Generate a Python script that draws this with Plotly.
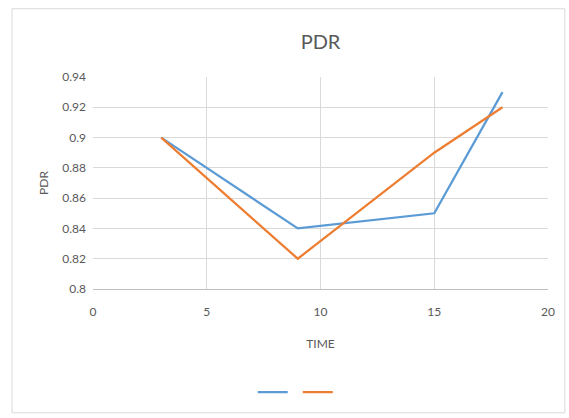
import plotly.graph_objects as go

# PDR over time for two series
time = [3, 9, 15, 18]
pdr_a = [0.90, 0.84, 0.85, 0.93]
pdr_b = [0.90, 0.82, 0.89, 0.92]

x_ticks = [0, 5, 10, 15, 20]
y_ticks = [0.8, 0.82, 0.84, 0.86, 0.88, 0.9, 0.92, 0.94]
y_labels = ["0.8", "0.82", "0.84", "0.86", "0.88", "0.9", "0.92", "0.94"]

font_family = "Lato, 'Open Sans', sans-serif"
grey = "#595959"

fig = go.Figure()
fig.add_trace(go.Scatter(x=time, y=pdr_a, mode="lines", name="",
                         line=dict(color="#5B9BD5", width=2.25)))
fig.add_trace(go.Scatter(x=time, y=pdr_b, mode="lines", name="",
                         line=dict(color="#ED7D31", width=2.25)))

fig.update_layout(
    width=569, height=418,
    margin=dict(l=93, r=21, t=77, b=128),
    paper_bgcolor="white", plot_bgcolor="white",
    font=dict(family=font_family, color=grey, size=12),
    title=dict(text="PDR", x=0.5, xref="paper", xanchor="center",
               y=0.9, yref="container", yanchor="middle",
               font=dict(size=20, color=grey, family=font_family)),
    showlegend=True,
    legend=dict(orientation="h", x=0.45, xanchor="center", y=-0.48,
                yanchor="middle", font=dict(size=11), itemwidth=30,
                tracegroupgap=0),
    shapes=[dict(type="rect", xref="paper", yref="paper",
                 x0=-0.178, x1=1.037, y0=-0.584, y1=1.322,
                 line=dict(color="#d9d9d9", width=1), layer="below")],
)

fig.update_xaxes(range=[0, 20], tickvals=x_ticks, showgrid=True,
                 gridcolor="#d9d9d9", gridwidth=1, zeroline=False,
                 showline=True, linecolor="#bfbfbf", ticks="",
                 ticklabelstandoff=12,
                 tickfont=dict(size=12, color=grey),
                 title=dict(text="TIME", standoff=21,
                            font=dict(size=12, color=grey)))
fig.update_yaxes(range=[0.8, 0.94], tickvals=y_ticks, ticktext=y_labels,
                 showgrid=True, gridcolor="#d9d9d9", gridwidth=1,
                 zeroline=False, showline=False, ticks="",
                 ticklabelstandoff=6,
                 tickfont=dict(size=12, color=grey),
                 title=dict(text="PDR", standoff=11,
                            font=dict(size=12, color=grey)))

fig.write_html("out.html")
